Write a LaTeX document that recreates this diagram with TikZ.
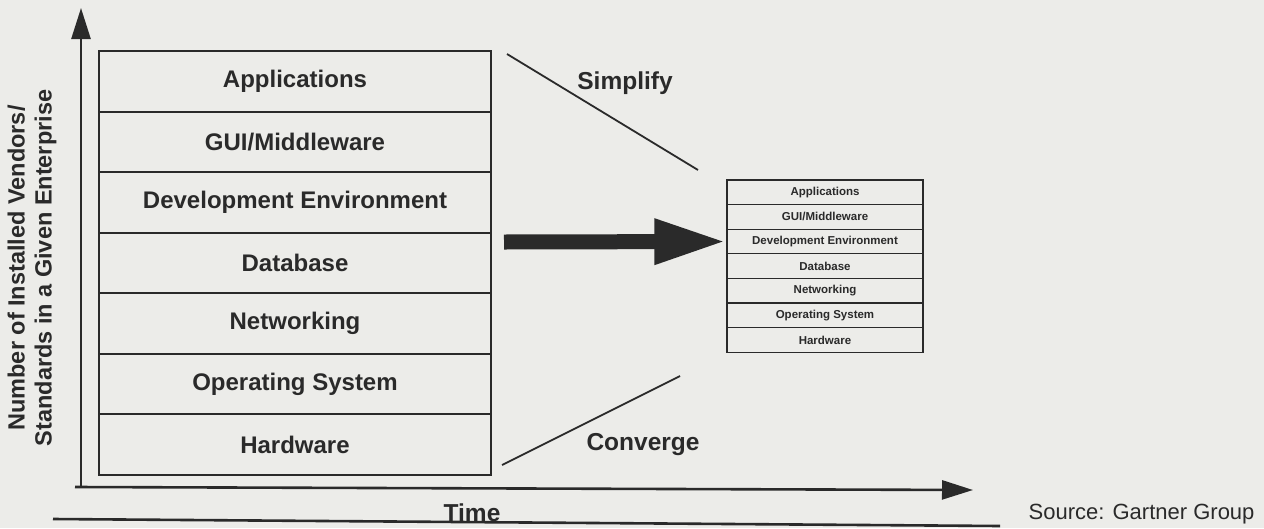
\documentclass[tikz,border=0pt]{standalone}
\usepackage{fontspec}
\setmainfont{Liberation Sans}
\usetikzlibrary{arrows.meta,positioning}
\definecolor{paper}{RGB}{236,236,233}
\definecolor{ink}{RGB}{42,42,42}
\tikzset{
	axis/.style={ink, line width=2.6pt, -{Triangle[length=31pt,width=19pt]}},
	layer/.style={draw=ink, line width=2pt, minimum width=392pt, minimum height=60.57pt,
		inner sep=0pt, text=ink, font=\fontsize{24}{28}\selectfont\bfseries},
	minilayer/.style={draw=ink, line width=1.2pt, minimum width=196pt, minimum height=24.6pt,
		inner sep=0pt, text=ink, font=\fontsize{11.5}{13}\selectfont\bfseries},
	slope/.style={ink, line width=1.8pt},
	bigarrow/.style={ink, line width=15pt, -{Triangle[length=72pt,width=42pt]}},
	caption/.style={ink, font=\fontsize{24.5}{28}\selectfont\bfseries},
}

\begin{document}
\begin{tikzpicture}[x=1pt,y=-1pt]

	% Paper
	\fill[paper] (0,0) rectangle (1264,528);
	\useasboundingbox (0,0) rectangle (1264,528);

	% Axes
	\coordinate (origin) at (81,486);
	\coordinate (ytop) at (81,8);
	\coordinate (xstart) at (75,487);
	\coordinate (xend) at (973,490);
	\draw[axis] (origin) -- (ytop);
	\draw[axis] (xstart) -- (xend);

	\node[caption, rotate=90, align=center, font=\fontsize{23.5}{27}\selectfont\bfseries]
		(ylabel) at (32,268) {Number of Installed Vendors/\\Standards in a Given Enterprise};

	% Time rule
	\coordinate (rulestart) at (53,519);
	\coordinate (ruleend) at (1000,526);
	\draw[ink, line width=2.6pt] (rulestart) -- (ruleend);
	\node[caption, anchor=base] (time) at (472,521) {Time};

	% Stack of standards, before
	\foreach \lbl [count=\i from 0] in {Applications, GUI/Middleware, Development Environment,
		Database, Networking, Operating System, Hardware}
		\node[layer] (big\i) at (295,81.3+60.57*\i) {\lbl};

	% Stack of standards, after
	\foreach \lbl [count=\i from 0] in {Applications, GUI/Middleware, Development Environment,
		Database, Networking, Operating System, Hardware}
		\node[minilayer] (small\i) at (825,192.3+24.6*\i) {\lbl};

	% Big arrow
	\coordinate (arrowtail) at (504,242);
	\draw[bigarrow] (arrowtail) -- (small2.west);

	% Simplify / Converge
	\coordinate (simpA) at (507,54);
	\coordinate (simpB) at (698,170);
	\draw[slope] (simpA) -- (simpB);
	\node[caption] (simplify) at (625,83) {Simplify};

	\coordinate (convA) at (502,465);
	\coordinate (convB) at (680,376);
	\draw[slope] (convA) -- (convB);
	\node[caption] (converge) at (643,445) {Converge};

	% Source
	\node[ink, anchor=base east, font=\fontsize{22}{26}\selectfont] (source) at (1258,519)
		{Source: Gartner Group};

\end{tikzpicture}
\end{document}
